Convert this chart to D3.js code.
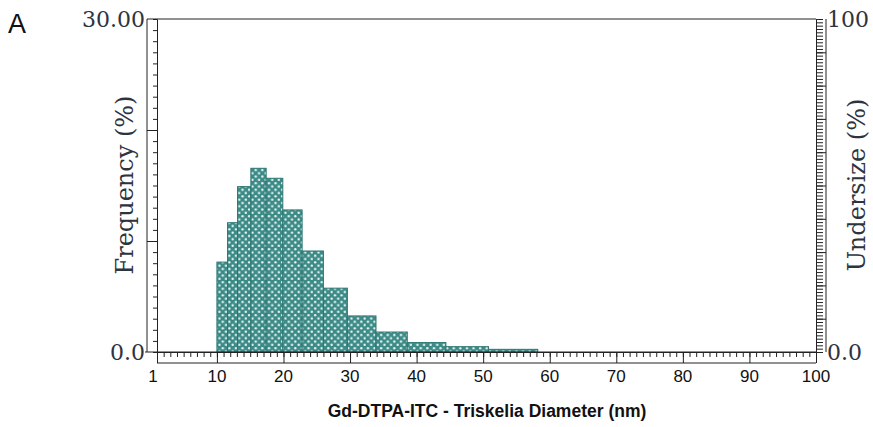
<!DOCTYPE html>
<html>
<head>
<meta charset="utf-8">
<script src="https://cdn.jsdelivr.net/npm/d3@7"></script>
<style>
  body { margin: 0; background: #fff; }
  .serif { font-family: "DejaVu Serif", "Liberation Serif", serif; fill: #2e3340; }
  .sans { font-family: "Liberation Sans", Arial, sans-serif; }
</style>
</head>
<body>
<svg id="chart"></svg>
<script>
var viewWidth = 873;
var viewHeight = 427;

var binEdges = [10, 11.6, 13.1, 15.1, 17.4, 19.9, 22.8, 26.0, 29.6, 33.9, 38.6, 44.4, 50.8, 58.2];
var freq = [8.1, 11.65, 14.9, 16.55, 15.65, 12.8, 9.1, 5.75, 3.25, 1.8, 0.85, 0.48, 0.24];
var xLabels = [1, 10, 20, 30, 40, 50, 60, 70, 80, 90, 100];
var yLeftLabels = ["0.0", "30.00"];
var yRightLabels = ["0.0", "100"];

var bins = freq.map(function(f, i) { return {x0: binEdges[i], x1: binEdges[i + 1], f: f}; });

var plotL = 157, plotR = 816, plotT = 19, plotB = 352;

var svg = d3.select("#chart")
    .attr("width", viewWidth)
    .attr("height", viewHeight);

var x = d3.scaleLinear().domain([1, 100]).range([plotL, plotR]);
var y = d3.scaleLinear().domain([0, 30]).range([plotB, plotT]);
var y2 = d3.scaleLinear().domain([0, 100]).range([plotB, plotT]);

// dotted teal fill
var pat = svg.append("defs").append("pattern")
    .attr("id", "dots")
    .attr("patternUnits", "userSpaceOnUse")
    .attr("width", 6.6)
    .attr("height", 6.6);
pat.append("rect").attr("width", 6.6).attr("height", 6.6).attr("fill", "#3d8b87");
pat.append("circle").attr("cx", 1.65).attr("cy", 1.65).attr("r", 1.2).attr("fill", "#eaf7f6");
pat.append("circle").attr("cx", 4.95).attr("cy", 4.95).attr("r", 1.2).attr("fill", "#eaf7f6");

svg.append("g").selectAll("rect")
    .data(bins)
  .enter().append("rect")
    .attr("x", function(d) { return x(d.x0); })
    .attr("y", function(d) { return y(d.f); })
    .attr("width", function(d) { return x(d.x1) - x(d.x0); })
    .attr("height", function(d) { return y(0) - y(d.f); })
    .attr("fill", "url(#dots)")
    .attr("stroke", "#2d7773")
    .attr("stroke-width", 1);

// frame
svg.append("line").attr("x1", 147).attr("x2", plotR).attr("y1", plotT).attr("y2", plotT).attr("stroke", "#222");
svg.append("line").attr("x1", 147).attr("x2", 147).attr("y1", plotT).attr("y2", plotB).attr("stroke", "#222");
svg.append("line").attr("x1", 826).attr("x2", 826).attr("y1", plotT).attr("y2", plotB).attr("stroke", "#222");
svg.append("line").attr("x1", plotL).attr("x2", plotR).attr("y1", 363).attr("y2", 363).attr("stroke", "#222");

function range(a, b, s) { return d3.range(a, b + 0.001, s); }

function styleAxis(g) {
  g.selectAll("path, line").attr("stroke", "#222");
  g.selectAll("text").remove();
}

// left axis (frequency)
svg.append("g").attr("transform", "translate(" + plotL + ",0)")
    .call(d3.axisLeft(y).tickValues(range(0, 30, 1)).tickSize(4).tickSizeOuter(0)).call(styleAxis);
svg.append("g").attr("transform", "translate(" + plotL + ",0)")
    .call(d3.axisLeft(y).tickValues([10, 20]).tickSize(10).tickSizeOuter(0)).call(styleAxis);

// right axis (undersize)
svg.append("g").attr("transform", "translate(" + plotR + ",0)")
    .call(d3.axisRight(y2).tickValues(range(0, 100, 1)).tickSize(7).tickSizeOuter(0)).call(styleAxis);
svg.append("g").attr("transform", "translate(" + plotR + ",0)")
    .call(d3.axisRight(y2).tickValues(range(10, 90, 10)).tickSize(10).tickSizeOuter(0)).call(styleAxis);

// bottom axis
svg.append("g").attr("transform", "translate(0," + plotB + ")")
    .call(d3.axisBottom(x).tickValues(range(2, 99, 1)).tickSize(5).tickSizeOuter(0)).call(styleAxis);
svg.append("g").attr("transform", "translate(0," + plotB + ")")
    .call(d3.axisBottom(x).tickValues(xLabels).tickSize(11).tickSizeOuter(0)).call(styleAxis);

svg.append("line").attr("x1", 145).attr("x2", plotR).attr("y1", plotB).attr("y2", plotB).attr("stroke", "#222");

svg.append("g").selectAll("text")
    .data(xLabels)
  .enter().append("text")
    .attr("class", "sans")
    .attr("x", function(d) { return d == 1 ? x(d) - 4 : x(d); })
    .attr("y", 382)
    .attr("text-anchor", "middle")
    .attr("font-size", 17)
    .attr("fill", "#111")
    .text(function(d) { return d; });

// left labels
svg.append("text").attr("class", "serif").attr("x", 145).attr("y", y(30) + 8)
    .attr("text-anchor", "end").attr("font-size", 22).text(yLeftLabels[1]);
svg.append("text").attr("class", "serif").attr("x", 145).attr("y", y(0) + 8)
    .attr("text-anchor", "end").attr("font-size", 22).text(yLeftLabels[0]);

// right labels
svg.append("text").attr("class", "serif").attr("x", 827).attr("y", y2(100) + 8)
    .attr("font-size", 22).text(yRightLabels[1]);
svg.append("text").attr("class", "serif").attr("x", 827).attr("y", y2(0) + 8)
    .attr("font-size", 22).text(yRightLabels[0]);

// axis titles
svg.append("text").attr("class", "serif")
    .attr("transform", "translate(133,185) rotate(-90)")
    .attr("text-anchor", "middle").attr("font-size", 24)
    .text("Frequency (%)");
svg.append("text").attr("class", "serif")
    .attr("transform", "translate(865,185) rotate(-90)")
    .attr("text-anchor", "middle").attr("font-size", 24)
    .text("Undersize (%)");

svg.append("text").attr("class", "sans")
    .attr("x", 487).attr("y", 417)
    .attr("text-anchor", "middle").attr("font-size", 17.5).attr("font-weight", "bold")
    .attr("fill", "#111")
    .text("Gd-DTPA-ITC - Triskelia Diameter (nm)");

svg.append("text").attr("class", "sans")
    .attr("x", 8).attr("y", 33)
    .attr("font-size", 27).attr("fill", "#111")
    .text("A");
</script>
</body>
</html>
